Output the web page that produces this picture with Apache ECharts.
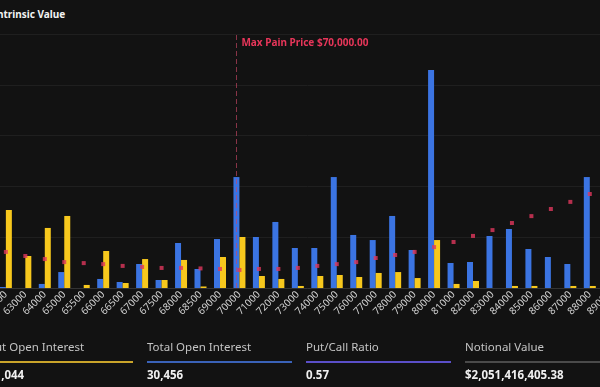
<!DOCTYPE html>
<html>
<head>
<meta charset="utf-8">
<script src="https://cdn.jsdelivr.net/npm/echarts@6/dist/echarts.min.js"></script>
<style>
  html, body { margin: 0; padding: 0; width: 600px; height: 387px; overflow: hidden; background: #121212; font-family: "Noto Sans", "Open Sans", sans-serif; }
  #chart { position: absolute; left: -20px; top: 0; width: 660px; height: 340px; }
  #title { position: absolute; left: -7px; top: 7px; color: #f2f2f2; font-size: 10px; font-weight: bold; white-space: nowrap; }
  .stat { position: absolute; top: 339px; width: 145px; }
  .stat .h { color: #c4c4c4; font-size: 11.5px; height: 20px; white-space: nowrap; }
  .stat .bar { height: 2px; margin-top: 2px; }
  .stat .v { color: #f0f0f0; font-size: 11.5px; font-weight: bold; margin-top: 4px; white-space: nowrap; }
</style>
</head>
<body>
<div id="title">Intrinsic Value</div>
<div id="chart"></div>
<div id="stats"></div>
<script>
const categories = ['62000','63000','64000','65000','65500','66000','66500','67000','67500','68000','68500','69000','70000','71000','72000','73000','74000','75000','76000','77000','78000','79000','80000','81000','82000','83000','84000','85000','86000','87000','88000','89000'];
const totalOI = [10,0,40,157,0,89,59,236,79,443,187,482,1092,502,650,394,394,1092,522,472,709,374,2146,246,256,512,581,384,305,236,1092,300];
const putOI = [768,315,591,709,30,364,49,285,79,276,15,305,502,118,89,20,118,128,108,148,157,98,472,40,69,0,20,20,0,20,20,0];
const intrinsic = [14.2,12.6,11.4,10.2,9.8,9.4,8.7,8.3,7.9,7.9,7.7,7.5,7.1,7.5,7.5,7.9,8.7,9.4,10.2,11.8,13.0,14.2,16.1,18.1,20.5,22.8,25.6,28.3,31.1,33.9,37.0,40.2];
const maxPain = '70000';
const statLabels = ['Put Open Interest','Total Open Interest','Put/Call Ratio','Notional Value'];
const statValues = ['11,044','30,456','0.57','$2,051,416,405.38'];
const statColors = ['#c9a42a','#3a62b8','#5b4fc9','#4a4a4a'];

const statsEl = document.getElementById('stats');
statLabels.forEach((t, i) => {
  const d = document.createElement('div');
  d.className = 'stat';
  d.style.left = (-12 + i * 159) + 'px';
  d.innerHTML = '<div class="h">' + t + '</div><div class="bar" style="background:' + statColors[i] + '"></div><div class="v">' + statValues[i] + '</div>';
  statsEl.appendChild(d);
});

const chart = echarts.init(document.getElementById('chart'), null, { renderer: 'canvas' });
chart.setOption({
  backgroundColor: 'transparent',
  animation: false,
  grid: { left: 15, width: 624, top: 34, height: 254 },
  xAxis: {
    type: 'category', data: categories, boundaryGap: true,
    axisLine: { lineStyle: { color: '#333' } },
    axisTick: { show: false },
    axisLabel: { color: '#cfcfcf', fontSize: 10, rotate: 45, margin: 5, interval: 0, fontFamily: 'Noto Sans' }
  },
  yAxis: [
    { type: 'value', min: 0, max: 2500, interval: 500, axisLabel: { show: false }, axisLine: { show: false }, axisTick: { show: false }, splitLine: { lineStyle: { color: '#1f1f1f' } } },
    { type: 'value', min: 0, max: 100, interval: 20, show: false, splitLine: { show: false } }
  ],
  series: [
    {
      name: 'Total Open Interest', type: 'bar', data: totalOI, barWidth: 6, barGap: '0%',
      itemStyle: { color: '#3b74e2' },
      markLine: {
        symbol: 'none', silent: true,
        lineStyle: { color: 'rgba(200,70,100,0.65)', type: [5, 3], width: 1 },
        label: { show: true, position: 'end', formatter: 'Max Pain Price $70,000.00', color: '#e8365a', fontWeight: 'bold', fontSize: 10, fontFamily: 'Noto Sans', align: 'left', verticalAlign: 'top', distance: -4, padding: [0, 0, 0, 5] },
        data: [{ xAxis: maxPain }]
      }
    },
    { name: 'Put Open Interest', type: 'bar', data: putOI, barWidth: 6, itemStyle: { color: '#f7c81d' } },
    { name: 'Intrinsic Value', type: 'scatter', yAxisIndex: 1, data: intrinsic, symbol: 'rect', symbolSize: 4, itemStyle: { color: '#e0375d' }, z: 5 }
  ]
});
</script>
</body>
</html>
